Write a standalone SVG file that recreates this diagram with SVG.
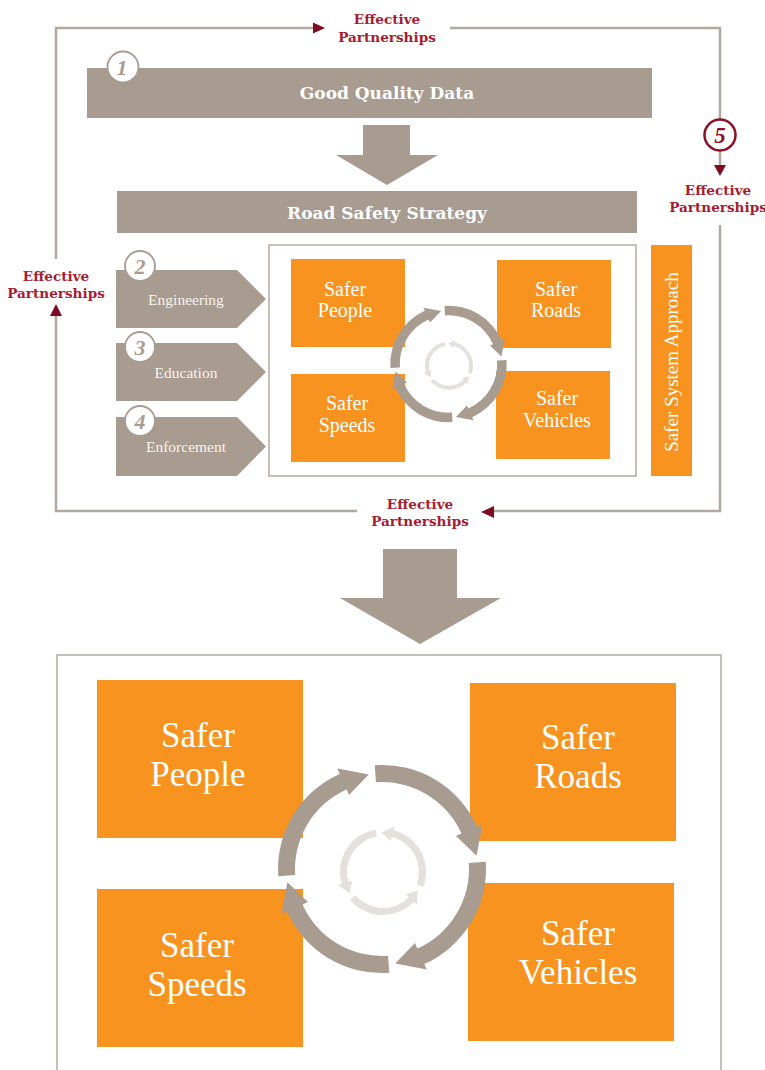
<svg xmlns="http://www.w3.org/2000/svg" xmlns:xlink="http://www.w3.org/1999/xlink" width="765" height="1070" viewBox="0 0 765 1070">
<style>
.bar{fill:#a89b90}
.org{fill:#f7931e}
.loop{fill:none;stroke:#b3a89f;stroke-width:2.5}
.box{fill:#fff;stroke:#b3aaa2;stroke-width:1.5}
.ah{fill:#7d0b22}
.lbl{font-family:"DejaVu Serif",serif;font-weight:bold;font-size:13.6px;fill:#a51c30;text-anchor:middle}
.bt{font-family:"DejaVu Serif",serif;font-weight:bold;font-size:17px;fill:#fff;text-anchor:middle}
.ct{font-family:"Liberation Serif",serif;font-size:15.5px;fill:#f8f4ef;text-anchor:middle}
.st{font-family:"Liberation Serif",serif;font-size:20px;fill:#fff;text-anchor:middle}
.lt{font-family:"Liberation Serif",serif;font-size:35px;fill:#fff;text-anchor:middle}
.num{fill:#fff;stroke:#a89b90;stroke-width:1.8}
.nt{font-family:"Liberation Serif",serif;font-weight:bold;font-style:italic;font-size:22px;fill:#a89b90;text-anchor:middle}
.cyc{fill:#a89b90}
.icyc{fill:#e4e0dc}
</style>
<defs>
<path id="seg" d="M-7.26,-103.75 A104,104 0 0 1 95.01,-42.30 L100.49,-44.74 L94.57,-13.29 L73.99,-32.94 L79.47,-35.38 A87,87 0 0 0 -6.07,-86.79 Z"/>
<path id="iseg" d="M40.41,14.71 A43,43 0 0 0 10.40,-41.72 L11.37,-45.60 L-1.38,-39.48 L7.74,-31.05 L8.71,-34.93 A36,36 0 0 1 33.83,12.31 Z"/>
<g id="cycle">
<g class="cyc">
<use xlink:href="#seg"/>
<use xlink:href="#seg" transform="rotate(90)"/>
<use xlink:href="#seg" transform="rotate(180)"/>
<use xlink:href="#seg" transform="rotate(270)"/>
</g>
<g class="icyc" transform="translate(1,3)">
<use xlink:href="#iseg"/>
<use xlink:href="#iseg" transform="rotate(120)"/>
<use xlink:href="#iseg" transform="rotate(240)"/>
</g>
</g>
</defs>
<rect width="765" height="1070" fill="#fff"/>

<g id="connectors">
<path class="loop" d="M56,259 V28 H314"/>
<path class="loop" d="M450,28 H720 V120"/>
<path class="loop" d="M720,151 V166"/>
<path class="loop" d="M720,225 V511 H494"/>
<path class="loop" d="M357,511 H56 V316"/>
<polygon class="ah" points="313,22.5 325,28 313,33.5"/>
<polygon class="ah" points="714,165 726,165 720,176"/>
<polygon class="ah" points="494,506 481,512 494,518"/>
<polygon class="ah" points="50,316 56,304 62,316"/>
<polygon class="bar" points="363,125 410,125 410,155 438,155 387,185 336,155 363,155"/>
<polygon class="bar" points="383,549 457,549 457,598 501,598 420,644 340,598 383,598"/>
</g>

<g id="label-top"><text class="lbl" x="387" y="24">Effective</text><text class="lbl" x="387" y="42">Partnerships</text></g>
<g id="label-right"><text class="lbl" x="718" y="195">Effective</text><text class="lbl" x="718" y="212">Partnerships</text></g>
<g id="label-bottom"><text class="lbl" x="420" y="509">Effective</text><text class="lbl" x="420" y="526">Partnerships</text></g>
<g id="label-left"><text class="lbl" x="56" y="281">Effective</text><text class="lbl" x="56" y="298">Partnerships</text></g>

<g id="circle5"><circle cx="720" cy="135" r="15.5" fill="#fff" stroke="#8b1028" stroke-width="2.5"/><text x="720" y="143" font-family="Liberation Serif,serif" font-weight="bold" font-style="italic" font-size="23" fill="#8b1028" text-anchor="middle">5</text></g>

<g id="good-quality-data">
<rect class="bar" x="87" y="68" width="565" height="50"/>
<text class="bt" x="387" y="99">Good Quality Data</text>
<circle class="num" cx="123" cy="67" r="15.5"/><text class="nt" x="122" y="75">1</text>
</g>

<g id="road-safety-strategy">
<rect class="bar" x="117" y="191" width="520" height="42"/>
<text class="bt" x="387" y="218.5">Road Safety Strategy</text>
</g>

<g id="engineering">
<path class="bar" d="M116,270 H237 L266,299 L237,328 H116 Z"/>
<text class="ct" x="186" y="305">Engineering</text>
<circle class="num" cx="140" cy="266" r="15"/><text class="nt" x="140" y="274">2</text>
</g>
<g id="education">
<path class="bar" d="M116,343 H237 L266,372 L237,401 H116 Z"/>
<text class="ct" x="186" y="378">Education</text>
<circle class="num" cx="140" cy="347" r="15"/><text class="nt" x="140" y="355">3</text>
</g>
<g id="enforcement">
<path class="bar" d="M116,417 H237 L266,446.5 L237,476 H116 Z"/>
<text class="ct" x="186" y="452">Enforcement</text>
<circle class="num" cx="140" cy="421" r="15"/><text class="nt" x="140" y="429">4</text>
</g>

<g id="safe-system-box">
<rect class="box" x="269" y="245" width="367" height="231"/>
</g>
<g id="small-people"><rect class="org" x="291" y="259" width="114" height="88"/><text class="st" x="345" y="296">Safer</text><text class="st" x="345" y="317">People</text></g>
<g id="small-roads"><rect class="org" x="497" y="260" width="114" height="88"/><text class="st" x="556" y="296">Safer</text><text class="st" x="556" y="317">Roads</text></g>
<g id="small-speeds"><rect class="org" x="291" y="374" width="114" height="88"/><text class="st" x="347" y="410">Safer</text><text class="st" x="347" y="432">Speeds</text></g>
<g id="small-vehicles"><rect class="org" x="496" y="371" width="114" height="88"/><text class="st" x="557" y="405">Safer</text><text class="st" x="557" y="427">Vehicles</text></g>
<g id="small-cycle"><use xlink:href="#cycle" transform="translate(448.5,364) scale(0.56)"/></g>

<g id="safer-system-approach">
<rect class="org" x="651" y="245" width="41" height="231"/>
<text x="0" y="0" font-family="Liberation Serif,serif" font-size="19" fill="#fff" text-anchor="middle" transform="translate(678,362) rotate(-90)">Safer System Approach</text>
</g>

<g id="outcome-box"><rect class="box" x="57" y="655" width="664" height="430"/></g>
<g id="big-people"><rect class="org" x="97" y="680" width="206" height="158"/><text class="lt" x="198" y="747">Safer</text><text class="lt" x="198" y="786">People</text></g>
<g id="big-roads"><rect class="org" x="470" y="683" width="206" height="158"/><text class="lt" x="578" y="749">Safer</text><text class="lt" x="578" y="788">Roads</text></g>
<g id="big-speeds"><rect class="org" x="97" y="889" width="206" height="158"/><text class="lt" x="197" y="957">Safer</text><text class="lt" x="197" y="996">Speeds</text></g>
<g id="big-vehicles"><rect class="org" x="468" y="883" width="206" height="158"/><text class="lt" x="578" y="945">Safer</text><text class="lt" x="578" y="984">Vehicles</text></g>
<g id="big-cycle"><use xlink:href="#cycle" transform="translate(382,869)"/></g>
</svg>
